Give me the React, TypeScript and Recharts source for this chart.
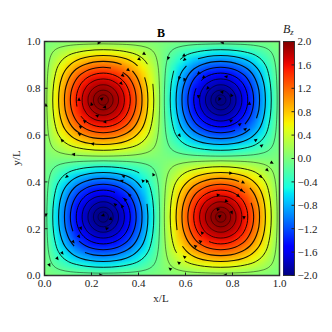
import React from 'react';
import { ComposedChart, XAxis, YAxis, Scatter, Line, ReferenceArea } from 'recharts';

const FONT = '"Liberation Serif", serif';
const INK = '#222222';
const TICKS = [0, 0.2, 0.4, 0.6, 0.8, 1];
const BAR_TICKS = [-2, -1.6, -1.2, -0.8, -0.4, 0, 0.4, 0.8, 1.2, 1.6, 2];

// Magnitude of Bz, one eighth-tile of a cell (edge -> centre).
const TILE = [
  [0.02, 0.06, 0.09, 0.12, 0.15, 0.17, 0.19, 0.2],
  [0.06, 0.17, 0.27, 0.37, 0.45, 0.51, 0.56, 0.58],
  [0.09, 0.27, 0.44, 0.6, 0.73, 0.83, 0.9, 0.94],
  [0.12, 0.37, 0.6, 0.8, 0.98, 1.12, 1.21, 1.26],
  [0.15, 0.45, 0.73, 0.98, 1.2, 1.36, 1.48, 1.54],
  [0.17, 0.51, 0.83, 1.12, 1.36, 1.56, 1.69, 1.76],
  [0.19, 0.56, 0.9, 1.21, 1.48, 1.69, 1.83, 1.9],
  [0.2, 0.58, 0.94, 1.26, 1.54, 1.76, 1.9, 1.98],
];

// Streamline rings: one octant [u, v] relative to a cell centre.
const RING_OCTANTS: number[][][] = [
  [[0, 0.24], [0.083, 0.238], [0.139, 0.234], [0.181, 0.226], [0.21, 0.21]],
  [[0, 0.215], [0.069, 0.211], [0.125, 0.2], [0.153, 0.188], [0.173, 0.173]],
  [[0, 0.19], [0.056, 0.186], [0.097, 0.176], [0.125, 0.163], [0.146, 0.146]],
  [[0, 0.165], [0.042, 0.162], [0.078, 0.152], [0.103, 0.14], [0.124, 0.124]],
  [[0, 0.14], [0.033, 0.137], [0.061, 0.129], [0.083, 0.118], [0.103, 0.103]],
  [[0, 0.115], [0.028, 0.112], [0.05, 0.105], [0.069, 0.095], [0.083, 0.083]],
  [[0, 0.09], [0.022, 0.0875], [0.039, 0.082], [0.053, 0.074], [0.065, 0.065]],
  [[0, 0.065], [0.013, 0.064], [0.025, 0.06], [0.036, 0.054], [0.046, 0.046]],
  [[0, 0.042], [0.008, 0.041], [0.016, 0.039], [0.023, 0.035], [0.03, 0.03]],
  [[0, 0.022], [0.004, 0.0216], [0.008, 0.0204], [0.012, 0.0184], [0.0156, 0.0156]],
];
const RING_WIDTHS = [0.7, 1.0, 1.1, 1.15, 1.1, 1.0, 0.85, 0.7, 0.6, 0.5];
const RING_OPACITY = [0.65, 0.85, 0.9, 0.9, 0.9, 0.9, 0.85, 0.8, 0.8, 0.8];

// Visible spans [ring, from, to] in 1/32 turns clockwise from the top of the ring.
const SPANS_TL = [[0, 0, 32], [1, 7, 37], [2, 6, 36], [3, 4, 34], [4, 3, 33], [5, 23, 53], [6, 0, 32], [7, 0, 32], [8, 0, 32], [9, 0, 32]];
const SPANS_TR = [[0, 0, 32], [1, 28, 58], [2, 30, 60], [3, 12, 42], [4, 14, 44], [5, 28, 58], [6, 0, 32], [7, 0, 32], [8, 0, 32], [9, 0, 32]];
const SPANS_BL = [[0, 0, 32], [1, 5, 35], [2, 7, 37], [3, 20, 50], [4, 22, 52], [5, 4, 34], [6, 0, 32], [7, 0, 32], [8, 0, 32], [9, 0, 32]];
const SPANS_BR = [[0, 0, 32], [1, 21, 51], [2, 23, 53], [3, 4, 34], [4, 6, 36], [5, 20, 50], [6, 0, 32], [7, 0, 32], [8, 0, 32], [9, 0, 32]];

const ARROWS_TL = [[0.233, 0.995], [0.425, 0.947], [0.404, 0.924], [0.357, 0.878], [0.334, 0.854], [0.327, 0.82], [0.245, 0.756], [0.147, 0.753], [0.2, 0.733], [0.255, 0.719], [0.223, 0.683], [0.17, 0.66], [0.256, 0.656], [0.152, 0.636], [0.148, 0.605], [0.074, 0.578], [0.204, 0.563], [0.123, 0.518], [0.006, 0.729]];
const ARROWS_TR = [[0.756, 0.995], [0.592, 0.94], [0.595, 0.922], [0.526, 0.928], [0.655, 0.864], [0.676, 0.847], [0.573, 0.843], [0.595, 0.836], [0.772, 0.85], [0.694, 0.8], [0.655, 0.764], [0.754, 0.784], [0.795, 0.771], [0.744, 0.753], [0.872, 0.736], [0.795, 0.662], [0.832, 0.647], [0.855, 0.626], [0.575, 0.598], [0.9, 0.579], [0.925, 0.556], [0.968, 0.482]];
const ARROWS_BL = [[0.463, 0.432], [0.435, 0.405], [0.418, 0.405], [0.335, 0.425], [0.328, 0.405], [0.094, 0.422], [0.361, 0.345], [0.343, 0.325], [0.3, 0.304], [0.33, 0.297], [0.248, 0.257], [0.282, 0.244], [0.267, 0.201], [0.155, 0.201], [0.147, 0.166], [0.123, 0.143], [0.076, 0.095], [0.055, 0.072], [0.021, 0.044], [0.24, 0.002], [0.006, 0.258]];
const ARROWS_BR = [[0.948, 0.45], [0.921, 0.422], [0.793, 0.437], [0.846, 0.397], [0.84, 0.363], [0.74, 0.344], [0.775, 0.318], [0.825, 0.34], [0.74, 0.283], [0.797, 0.269], [0.747, 0.254], [0.849, 0.247], [0.67, 0.183], [0.662, 0.146], [0.641, 0.126], [0.595, 0.08], [0.571, 0.055], [0.534, 0.029], [0.769, 0.002]];

const JET_R = [[0, 0], [0.35, 0], [0.66, 1], [0.89, 1], [1, 0.5]];
const JET_G = [[0, 0], [0.125, 0], [0.375, 1], [0.64, 1], [0.91, 0], [1, 0]];
const JET_B = [[0, 0.5], [0.11, 1], [0.34, 1], [0.65, 0], [1, 0]];

const channel = (table: number[][], t: number) => {
  for (let i = 1; i < table.length; i++) {
    if (t <= table[i][0]) {
      const [a, av] = table[i - 1];
      const [b, bv] = table[i];
      return Math.round(255 * (av + ((t - a) / (b - a)) * (bv - av)));
    }
  }
  return 0;
};
const jet = (t: number) => `rgb(${channel(JET_R, t)},${channel(JET_G, t)},${channel(JET_B, t)})`;
const colorOf = (v: number) => jet(Math.min(1, Math.max(0, (v + 2) / 4)));

const N = 32;
const tile16 = (i: number) => (i < 8 ? i : 15 - i);
const heatCells: { x: number; y: number; v: number }[] = [];
for (let j = 0; j < N; j++) {
  for (let i = 0; i < N; i++) {
    const left = i < 16;
    const low = j < 16;
    const mag = TILE[tile16(j % 16)][tile16(i % 16)];
    heatCells.push({ x: (i + 0.5) / N, y: (j + 0.5) / N, v: left === low ? -mag : mag });
  }
}

const expandRing = (oct: number[][]) => {
  const q1 = [...oct, ...oct.slice(0, 4).reverse().map(([u, v]) => [v, u])];
  const q2 = q1.slice(0, 8).reverse().map(([u, v]) => [u, -v]);
  const half = [...q1, ...q2];
  const rest = half.slice(0, 16).reverse().map(([u, v]) => [-u, v]);
  return [...half, ...rest];
};
const RINGS = RING_OCTANTS.map(expandRing);

const segmentsOf = (spans: number[][], cx: number, cy: number) =>
  spans.map(([ring, from, to]) => {
    const pts = [];
    for (let k = from; k <= to; k++) {
      const [u, v] = RINGS[ring][k % 32];
      pts.push({ x: cx + u, y: cy + v });
    }
    return { ring, pts };
  });
const SEGMENTS = [
  ...segmentsOf(SPANS_TL, 0.25, 0.75),
  ...segmentsOf(SPANS_TR, 0.75, 0.75),
  ...segmentsOf(SPANS_BL, 0.25, 0.25),
  ...segmentsOf(SPANS_BR, 0.75, 0.25),
];

const arrowsOf = (list: number[][], cx: number, cy: number, spin: number) =>
  list.map(([x, y]) => ({ x, y, cx0: cx, cy0: cy, spin }));
const arrowData = [
  ...arrowsOf(ARROWS_TL, 0.25, 0.75, 1),
  ...arrowsOf(ARROWS_TR, 0.75, 0.75, -1),
  ...arrowsOf(ARROWS_BL, 0.25, 0.25, -1),
  ...arrowsOf(ARROWS_BR, 0.75, 0.25, 1),
];

const PLOT_LEFT = 44.5;
const PLOT_TOP = 41.5;
const PLOT_W = 235;
const PLOT_H = 234;
const CELL_W = PLOT_W / N + 0.5;
const CELL_H = PLOT_H / N + 0.5;

const HeatCell = (p: any) => (
  <rect x={p.cx - CELL_W / 2} y={p.cy - CELL_H / 2} width={CELL_W} height={CELL_H} fill={colorOf(p.payload.v)} />
);

const ArrowMark = (p: any) => {
  const { x, y, cx0, cy0, spin } = p.payload;
  const U = 2 * Math.PI * (x - cx0);
  const V = 2 * Math.PI * (y - cy0);
  const gx = Math.sin(U) * Math.cos(V);
  const gy = Math.cos(U) * Math.sin(V);
  const angle = (Math.atan2(spin * gx, spin * gy) * 180) / Math.PI;
  return <path d="M2,0 L-1.6,-1.7 L-1.6,1.7 Z" fill="#000" transform={`translate(${p.cx},${p.cy}) rotate(${angle})`} />;
};

const tickStyle = { fontFamily: FONT, fontSize: 11, fill: INK };
const fmt = (v: number) => (v < 0 ? '\u2212' : '') + Math.abs(v).toFixed(1);
const barStops = Array.from({ length: 41 }, (_, i) => i / 40);
const EXTRA: any = {};

export default function App() {
  return (
    <div style={{ position: 'absolute', left: 0, top: 0, width: 332, height: 332, background: '#fff' }}>
      <style>{`.heat-layer{filter:url(#heatBlur)}`}</style>
      <div style={{ position: 'absolute', left: 0, top: 0 }}>
        <ComposedChart
          width={332}
          height={332}
          margin={{ left: PLOT_LEFT - 30, top: PLOT_TOP, right: 332 - PLOT_LEFT - PLOT_W, bottom: 332 - PLOT_TOP - PLOT_H - 30 }}
        >
          <defs>
            <filter id="heatBlur" x="0" y="0" width="1" height="1" colorInterpolationFilters="sRGB">
              <feGaussianBlur stdDeviation="2.5" />
            </filter>
          </defs>
          <XAxis
            dataKey="x"
            type="number"
            domain={[0, 1]}
            ticks={TICKS}
            allowDataOverflow
            height={30}
            tick={tickStyle}
            tickFormatter={(v: number) => v.toFixed(1)}
            tickSize={-3}
            tickMargin={7}
            axisLine={false}
            stroke={INK}
          />
          <YAxis
            dataKey="y"
            type="number"
            domain={[0, 1]}
            ticks={TICKS}
            allowDataOverflow
            width={30}
            tick={tickStyle}
            tickFormatter={(v: number) => v.toFixed(1)}
            tickSize={-3}
            tickMargin={7}
            axisLine={false}
            stroke={INK}
          />
          <ReferenceArea x1={0} x2={1} y1={0} y2={1} fill="#7dff7a" fillOpacity={1} stroke="none" {...EXTRA} zIndex={10} />
          <Scatter data={heatCells} className="heat-layer" shape={HeatCell} isAnimationActive={false} legendType="none" {...EXTRA} zIndex={20} />
          {SEGMENTS.map((s, i) => (
            <Line
              key={i}
              data={s.pts}
              dataKey="y"
              type="natural"
              dot={false}
              activeDot={false}
              stroke="#000"
              strokeOpacity={RING_OPACITY[s.ring]}
              strokeWidth={RING_WIDTHS[s.ring]}
              isAnimationActive={false}
              legendType="none"
              {...EXTRA}
              zIndex={30}
            />
          ))}
          <Scatter data={arrowData} shape={ArrowMark} isAnimationActive={false} legendType="none" {...EXTRA} zIndex={40} />
          <ReferenceArea x1={0} x2={1} y1={0} y2={1} fill="none" stroke="#333" strokeWidth={1.5} {...EXTRA} zIndex={50} />
          <text x={161} y={36.5} textAnchor="middle" fontFamily={FONT} fontWeight="bold" fontSize={12} fill="#000">B</text>
          <text x={161} y={302} textAnchor="middle" fontFamily={FONT} fontSize={11} fill={INK}>x/L</text>
          <text x={20} y={158} textAnchor="middle" fontFamily={FONT} fontSize={11} fill={INK} transform="rotate(-90 20 158)">y/L</text>
        </ComposedChart>
      </div>
      <div style={{ position: 'absolute', left: 283, top: 0 }}>
        <ComposedChart width={49} height={332} margin={{ left: 0, top: PLOT_TOP, right: 0, bottom: 332 - PLOT_TOP - PLOT_H }}>
          <defs>
            <linearGradient id="jetBar" x1="0" y1="1" x2="0" y2="0">
              {barStops.map((t) => (
                <stop key={t} offset={t} stopColor={jet(t === 0 ? 0.0001 : t)} />
              ))}
            </linearGradient>
          </defs>
          <XAxis dataKey="x" type="number" domain={[0, 1]} allowDataOverflow height={0} tick={false} axisLine={false} tickLine={false} />
          <YAxis
            dataKey="y"
            type="number"
            orientation="right"
            domain={[-2, 2]}
            ticks={BAR_TICKS}
            interval={0}
            allowDataOverflow
            width={37.5}
            tick={{ ...tickStyle, textAnchor: 'start' }}
            tickFormatter={fmt}
            tickSize={-3}
            tickMargin={6}
            axisLine={false}
            stroke={INK}
          />
          <ReferenceArea x1={0} x2={1} y1={-2} y2={2} fill="url(#jetBar)" fillOpacity={1} stroke="#333" strokeWidth={1} />
          <text x={0} y={33} fontFamily={FONT} fontStyle="italic" fontSize={12} fill={INK}>
            B<tspan dy={2} fontSize={8.5}>z</tspan>
          </text>
        </ComposedChart>
      </div>
    </div>
  );
}
